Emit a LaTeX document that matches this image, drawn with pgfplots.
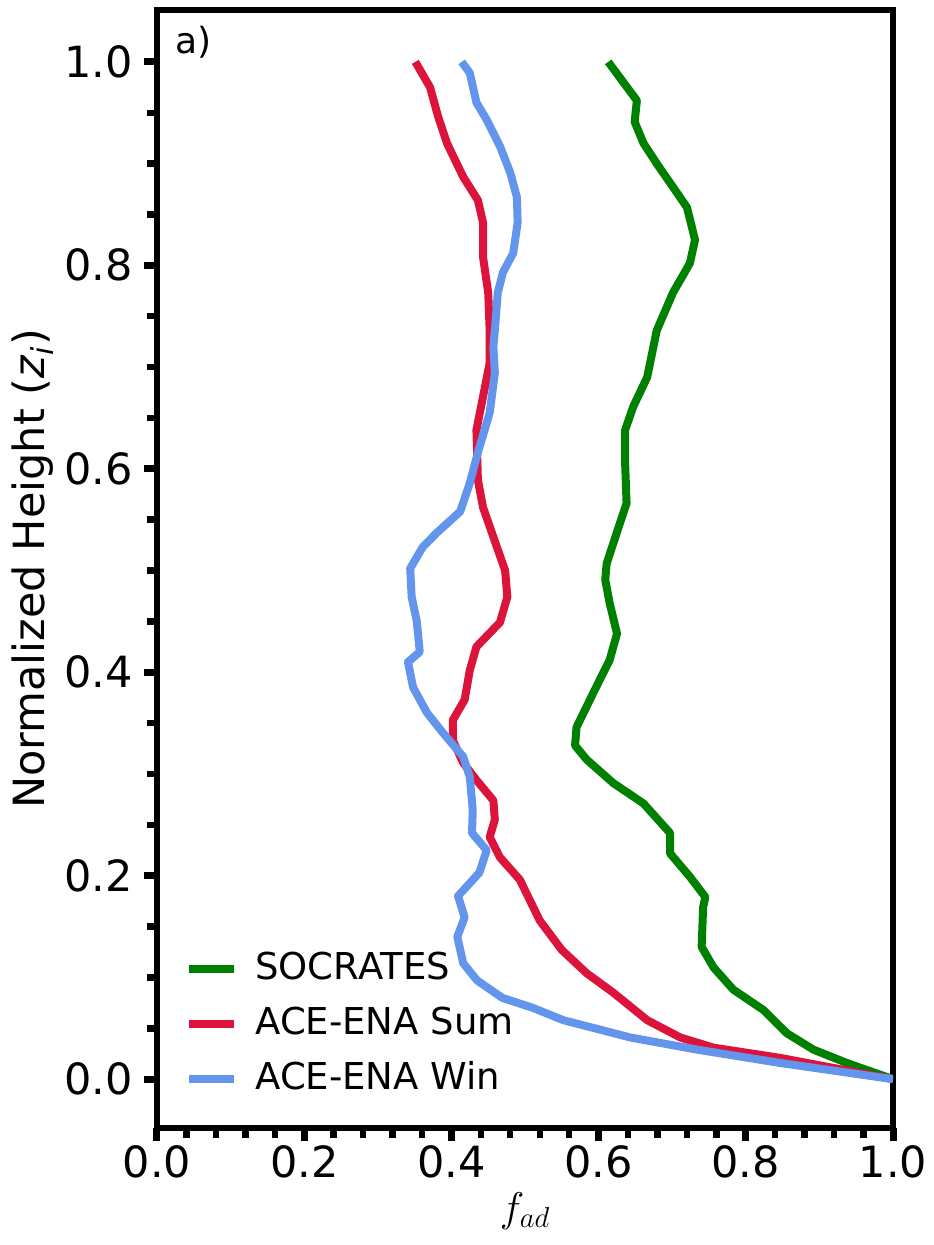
\documentclass[border=0pt]{standalone}
\usepackage{fontspec}
\setmainfont{DejaVu Sans}
\usepackage{pgfplots}
\pgfplotsset{compat=1.18}
\definecolor{cgreen}{RGB}{0,128,0}
\definecolor{ccrimson}{RGB}{220,20,60}
\definecolor{cblue}{RGB}{100,149,237}
\begin{document}
\begin{tikzpicture}
\path[use as bounding box] (-78.5pt,-58.5pt) rectangle (388pt,564pt);
\begin{axis}[
  at={(0,0)}, anchor=south west,
  scale only axis, width=368pt, height=559pt,
  xmin=0, xmax=1, ymin=-0.048, ymax=1.051,
  xtick={0,0.2,0.4,0.6,0.8,1.0}, ytick={0,0.2,0.4,0.6,0.8,1.0},
  minor x tick num=4, minor y tick num=3,
  xtick pos=bottom, ytick pos=left,
  tick align=outside,
  major tick length=6.5pt, minor tick length=5pt,
  every major tick/.append style={line width=3.5pt, black},
  every minor tick/.append style={line width=3.2pt, black},
  axis line style={line width=3pt},
  /pgf/number format/.cd, fixed, fixed zerofill, precision=1, assume math mode=true,
  /pgfplots/.cd,
  tick label style={font=\fontsize{21.5}{26}\selectfont},
  xticklabel style={yshift=1pt},
  yticklabel style={xshift=-2pt},
  xlabel={\fontsize{22}{26}\selectfont$f_{ad}$},
  ylabel={Normalized Height (\textit{z}\textsubscript{\textit{i}})},
  label style={font=\fontsize{21.5}{26}\selectfont},
  ylabel style={yshift=-1.5pt},
  legend style={draw=none, fill=none, inner sep=0pt, at={(0.038,0.027)}, anchor=south west,
    font=\fontsize{18.5}{22}\selectfont, row sep=9.5pt,
    nodes={inner sep=0pt, text height=14pt, text depth=4pt}},
  legend cell align=left,
  legend image code/.code={\draw[#1] (0pt,0pt) -- (22.5pt,0pt); \path (31pt,0pt);},
  every axis plot/.append style={line join=round},
]
\addplot[cgreen, line width=4pt] coordinates {
(1.0,0.0)(0.937,0.016)(0.892,0.029)(0.856,0.045)(0.824,0.068)(0.783,0.088)(0.756,0.110)(0.740,0.130)(0.742,0.169)
(0.745,0.179)(0.724,0.199)(0.697,0.222)(0.697,0.242)(0.661,0.271)(0.620,0.291)(0.584,0.314)(0.568,0.328)(0.570,0.346)
(0.593,0.380)(0.615,0.412)(0.625,0.438)(0.615,0.468)(0.609,0.491)(0.611,0.507)(0.626,0.540)(0.638,0.566)(0.636,0.606)
(0.636,0.638)(0.647,0.661)(0.666,0.690)(0.679,0.736)(0.701,0.773)(0.724,0.802)(0.731,0.825)(0.720,0.857)(0.701,0.877)
(0.679,0.900)(0.661,0.920)(0.649,0.941)(0.652,0.962)(0.613,1.0)};
\addlegendentry{SOCRATES}
\addplot[ccrimson, line width=4pt] coordinates {
(1.0,0.0)(0.846,0.021)(0.756,0.031)(0.711,0.041)(0.666,0.058)(0.620,0.085)(0.584,0.104)(0.550,0.127)(0.520,0.156)
(0.493,0.196)(0.466,0.218)(0.452,0.238)(0.459,0.255)(0.457,0.274)(0.434,0.294)(0.416,0.311)(0.402,0.333)(0.402,0.353)
(0.418,0.373)(0.425,0.402)(0.434,0.425)(0.466,0.449)(0.476,0.474)(0.473,0.500)(0.457,0.533)(0.443,0.562)(0.436,0.589)
(0.434,0.638)(0.443,0.671)(0.452,0.704)(0.452,0.736)(0.450,0.773)(0.443,0.808)(0.443,0.842)(0.436,0.864)(0.416,0.887)
(0.394,0.920)(0.382,0.946)(0.371,0.975)(0.351,1.0)};
\addlegendentry{ACE-ENA Sum}
\addplot[cblue, line width=4pt] coordinates {
(1.0,0.0)(0.846,0.016)(0.734,0.029)(0.643,0.041)(0.552,0.058)(0.511,0.070)(0.469,0.080)(0.435,0.097)(0.416,0.114)
(0.408,0.140)(0.418,0.159)(0.409,0.180)(0.438,0.203)(0.448,0.225)(0.428,0.242)(0.429,0.265)(0.425,0.297)(0.416,0.317)
(0.389,0.340)(0.367,0.360)(0.348,0.385)(0.341,0.410)(0.357,0.420)(0.353,0.450)(0.346,0.474)(0.344,0.502)(0.361,0.523)
(0.380,0.537)(0.412,0.558)(0.425,0.586)(0.436,0.616)(0.452,0.655)(0.459,0.694)(0.457,0.720)(0.459,0.736)(0.463,0.773)
(0.470,0.793)(0.484,0.812)(0.490,0.842)(0.489,0.867)(0.480,0.891)(0.466,0.917)(0.448,0.943)(0.434,0.960)(0.425,0.989)(0.414,1.0)};
\addlegendentry{ACE-ENA Win}
\node[anchor=north west, font=\fontsize{18}{21}\selectfont] at (rel axis cs:0.015,0.992) {a)};
\end{axis}
\end{tikzpicture}
\end{document}
